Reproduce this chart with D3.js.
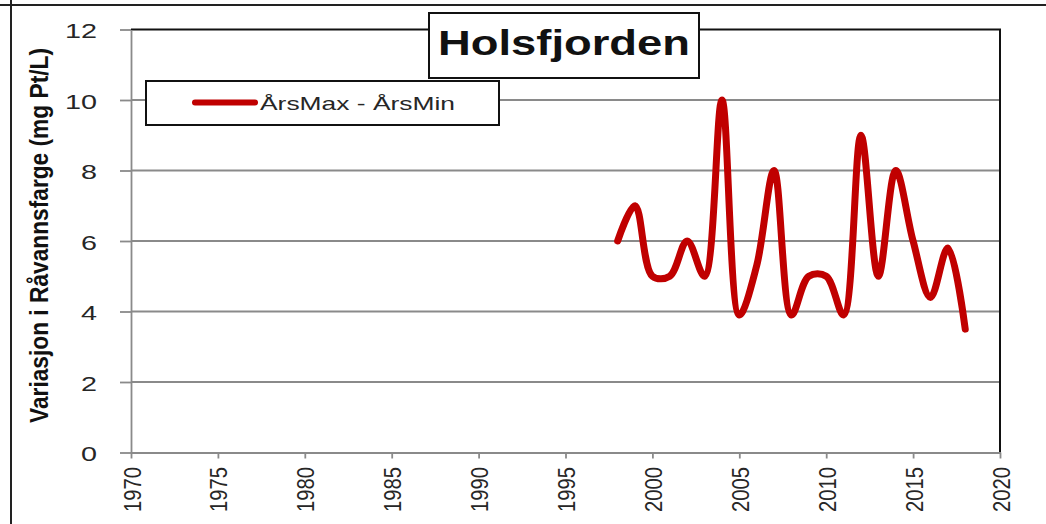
<html>

<head>

<script src="https://d3js.org/d3.v7.min.js"></script>

<style>

    body {
        margin: 0;
        background: white;
    }

    svg {
        display: block;
        font-family: 'Liberation Sans', Arial, sans-serif;
    }

    .grid line {
        stroke: #8a8a8a;
        stroke-width: 1.8;
    }

    .axis path,
    .axis line {
        stroke: #8a8a8a;
        stroke-width: 1.8;
    }

    .axis text {
        fill: #262626;
    }

</style>

</head>

<body>

    <svg id='chart' width=1046 height=524></svg>

<script>

    // values
    var years = [1998, 1999, 2000, 2001, 2002, 2003, 2004, 2005, 2006, 2007,
                 2008, 2009, 2010, 2011, 2012, 2013, 2014, 2015, 2016, 2017, 2018];
    var spread = [6, 7, 5, 5, 6, 5, 10, 3.9, 5.3, 8,
                  3.9, 5, 5, 3.9, 9, 5, 8, 6, 4.4, 5.8, 3.5];

    var xTicks = [1970, 1975, 1980, 1985, 1990, 1995, 2000, 2005, 2010, 2015, 2020];
    var yTicks = [0, 2, 4, 6, 8, 10, 12];
    var gridTicks = [2, 4, 6, 8, 10];

    var titleText = 'Holsfjorden';
    var seriesName = 'ÅrsMax - ÅrsMin';
    var yTitle = 'Variasjon i Råvannsfarge (mg Pt/L)';

    var svg = d3.select('#chart');

    var x = d3.scaleLinear()
            .domain([1970, 2020])
            .range([131, 1000]);

    var y = d3.scaleLinear()
            .domain([0, 12])
            .range([452.5, 29.5]);

    // outer chart frame (cut off by the crop)
    svg.append('line')
        .attr('x1', 0).attr('x2', 1046)
        .attr('y1', 5).attr('y2', 5)
        .attr('stroke', '#222').attr('stroke-width', 2);
    svg.append('line')
        .attr('x1', 11).attr('x2', 11)
        .attr('y1', 0).attr('y2', 524)
        .attr('stroke', '#222').attr('stroke-width', 2);

    // gridlines
    svg.append('g')
        .attr('class', 'grid')
        .selectAll('line')
        .data(gridTicks)
      .enter()
        .append('line')
        .attr('x1', x(1970))
        .attr('x2', x(2020))
        .attr('y1', function(d) { return y(d); })
        .attr('y2', function(d) { return y(d); });

    // plot area border, top and right are black
    svg.append('path')
        .attr('d', 'M' + x(1970) + ',' + y(12) + 'H' + x(2020) + 'V' + y(0))
        .attr('fill', 'none')
        .attr('stroke', '#111')
        .attr('stroke-width', 2);

    var yAxis = svg.append('g')
        .attr('class', 'axis')
        .attr('transform', 'translate(' + x(1970) + ',0)')
        .call(d3.axisLeft(y)
            .tickValues(yTicks)
            .tickSizeInner(11)
            .tickSizeOuter(0)
            .tickPadding(23));

    yAxis.selectAll('text')
        .style('font-size', '21px')
        .attr('dy', '0.4em')
        .attr('lengthAdjust', 'spacingAndGlyphs')
        .attr('textLength', function(d) { return String(d).length * 16; });

    var xAxis = svg.append('g')
        .attr('class', 'axis')
        .attr('transform', 'translate(0,' + y(0) + ')')
        .call(d3.axisBottom(x)
            .tickValues(xTicks)
            .tickFormat(d3.format('d'))
            .tickSizeInner(6)
            .tickSizeOuter(0));

    xAxis.selectAll('text')
        .style('font-size', '23px')
        .attr('x', 0)
        .attr('y', 0)
        .attr('dy', 0)
        .attr('text-anchor', 'end')
        .attr('transform', 'translate(9,14.5) rotate(-90)')
        .attr('lengthAdjust', 'spacingAndGlyphs')
        .attr('textLength', 45);

    // y axis title
    svg.append('text')
        .attr('transform', 'translate(48,' + ((48 + 423) / 2) + ') rotate(-90)')
        .attr('text-anchor', 'middle')
        .style('font-size', '25px')
        .style('font-weight', 'bold')
        .attr('fill', '#111')
        .attr('lengthAdjust', 'spacingAndGlyphs')
        .attr('textLength', 375)
        .text(yTitle);

    // legend
    var legend = svg.append('g');

    legend.append('rect')
        .attr('x', 146).attr('y', 81)
        .attr('width', 353).attr('height', 44)
        .attr('fill', 'white')
        .attr('stroke', '#111')
        .attr('stroke-width', 2);

    legend.append('line')
        .attr('x1', 195).attr('x2', 255)
        .attr('y1', 102.5).attr('y2', 102.5)
        .attr('stroke', '#c00000')
        .attr('stroke-width', 6)
        .attr('stroke-linecap', 'round');

    legend.append('text')
        .attr('x', 260).attr('y', 110)
        .style('font-size', '19px')
        .attr('fill', '#262626')
        .attr('lengthAdjust', 'spacingAndGlyphs')
        .attr('textLength', 195)
        .text(seriesName);

    // the series, smoothed like the spreadsheet line
    var line = d3.line()
        .x(function(d, i) { return x(years[i]); })
        .y(function(d) { return y(d); })
        .curve(d3.curveCatmullRom.alpha(0.5));

    svg.append('path')
        .datum(spread)
        .attr('d', line)
        .attr('fill', 'none')
        .attr('stroke', '#c00000')
        .attr('stroke-width', 7)
        .attr('stroke-linejoin', 'round')
        .attr('stroke-linecap', 'round');

    // title box
    svg.append('rect')
        .attr('x', 429).attr('y', 13)
        .attr('width', 270).attr('height', 65)
        .attr('fill', 'white')
        .attr('stroke', '#111')
        .attr('stroke-width', 2);

    svg.append('text')
        .attr('x', 438).attr('y', 55)
        .style('font-size', '35px')
        .style('font-weight', 'bold')
        .attr('fill', '#111')
        .attr('lengthAdjust', 'spacingAndGlyphs')
        .attr('textLength', 252)
        .text(titleText);

</script>

</body>

</html>
